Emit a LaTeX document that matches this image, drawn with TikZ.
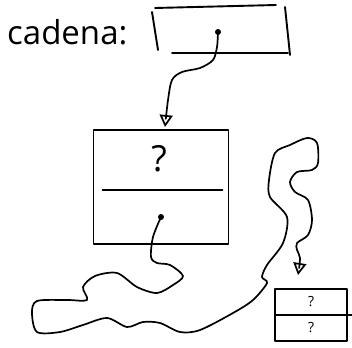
\documentclass[tikz,border=0pt]{standalone}
\usepackage{fontspec}
\setmainfont{Open Sans}
\usetikzlibrary{arrows.meta,calc}
\begin{document}
\begin{tikzpicture}[x=1pt,y=-1pt,
  ink/.style={line width=1.9pt,line cap=round,line join=round},
  cellbox/.style={inner sep=0pt,outer sep=0pt},
  dotmark/.style={circle,fill=black,inner sep=0pt,minimum size=6pt},
  wire/.style={ink,line width=1.7pt,-{Triangle[open,length=12pt,width=13pt,line width=1.7pt]}}]
\useasboundingbox (0,0) rectangle (352,347);
% label
\node[anchor=base west,inner sep=0pt,font=\fontsize{33}{33}\selectfont] (lbl) at (7,45) {cadena:};
% pointer box
\node[cellbox,minimum width=134pt,minimum height=48pt] (ptr) at (221,30) {};
\draw[ink] ($(ptr.north west)+(-2,6)$) -- ($(ptr.south west)+(4,-4)$);
\draw[ink] ($(ptr.north west)+(1,2)$) -- ($(ptr.north east)+(-12,-1)$);
\draw[ink] ($(ptr.north east)+(-3,1)$) -- ($(ptr.south east)+(2,1)$);
\draw[ink] ($(ptr.south west)+(18,-1)$) -- ($(ptr.south east)+(0,-1)$);
\node[dotmark] (p1) at (218,32) {};
% big node: data and next fields
\node[cellbox,minimum width=135pt,minimum height=60pt] (data) at (161,160) {};
\node[cellbox,minimum width=135pt,minimum height=54pt,anchor=north] (nxt) at (data.south) {};
\node[font=\fontsize{36}{36}\selectfont] (q1) at (159,159) {?};
\draw[ink] (data.north west) -- (data.north east) -- (nxt.south east) -- (nxt.south west) -- cycle;
\draw[ink] ($(data.south west)+(9,0)$) -- ($(data.south east)+(-6,0)$);
\node[dotmark] (p2) at (nxt.center) {};
% small node
\node[cellbox,minimum width=72pt,minimum height=26pt] (s1) at (311,302) {};
\node[cellbox,minimum width=72pt,minimum height=26pt,anchor=north] (s2) at (s1.south) {};
\node[font=\fontsize{14}{14}\selectfont] (q2) at (s1.center) {?};
\node[font=\fontsize{14}{14}\selectfont] (q3) at (s2.center) {?};
\draw[ink] (s1.north west) -- (s1.north east) -- (s2.south east) -- (s2.south west) -- cycle;
\draw[ink] (s1.south west) -- ($(s1.south east)+(5,0)$);
% connectors
\draw[wire] plot[smooth] coordinates {(p1) (217,47) (213,60) (200,68) (182,72) (172,80) (168,100) ($(data.north)+(4,-3)$)};
\draw[wire] plot[smooth] coordinates {(p2) (153,237) (151,257) (157,263) (170,265) (183,276) (173,285) (157,293) (137,287) (117,273) (95,276) (83,287) (87,300) (67,300) (37,301) (32,313) (37,332) (60,332) (83,325) (107,318) (127,327) (143,322) (160,323) (180,332) (200,330) (233,313) (253,300) (267,283) (262,277) (267,265) (283,243) (287,217) (270,197) (269,180) (275,153) (290,145) (307,138) (317,143) (318,163) (312,170) (297,172) (290,182) (295,192) (308,200) (312,220) (308,235) (297,243) (297,250) (300,258) ($(s1.north)+(-13,-14)$)};
\end{tikzpicture}
\end{document}
